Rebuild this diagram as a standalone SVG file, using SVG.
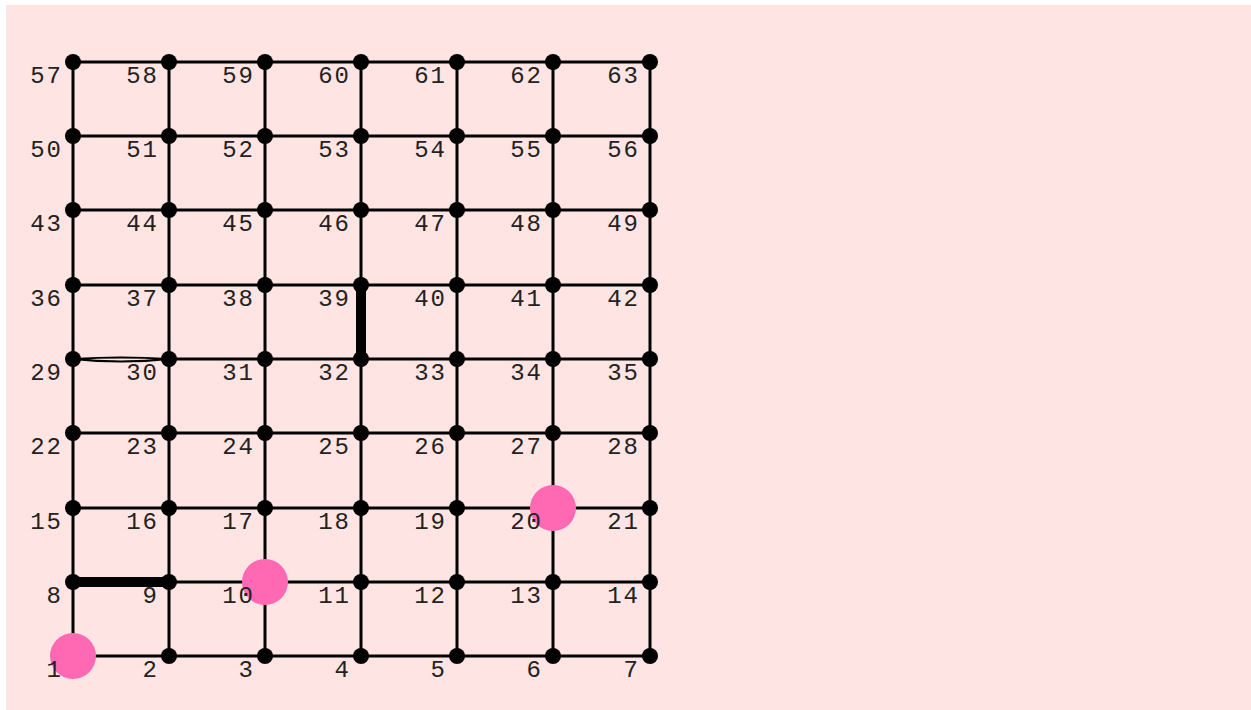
<svg xmlns="http://www.w3.org/2000/svg" width="1251" height="710" viewBox="0 0 1251 710">
<style>
.e{stroke:#000;stroke-width:3;fill:none}
.t{stroke:#000;stroke-width:10;fill:none;stroke-linecap:round}
.l{stroke:#000;stroke-width:2;fill:none}
.n{fill:#000}
.p{fill:#FF69B4}
text{font-family:"Liberation Mono","DejaVu Sans Mono",monospace;font-size:24px;fill:#222;text-anchor:end;letter-spacing:2px}
</style>
<rect x="0" y="0" width="1251" height="710" fill="#fff"/>
<rect x="6" y="5" width="1245" height="705" fill="#FFE4E4"/>
<g id="connectors">
<path class="e" d="M73 656H169"/><path class="e" d="M169 656H265"/><path class="e" d="M265 656H361"/><path class="e" d="M361 656H457"/><path class="e" d="M457 656H553"/><path class="e" d="M553 656H650"/>
<path class="t" d="M73 582H169"/><path class="e" d="M169 582H265"/><path class="e" d="M265 582H361"/><path class="e" d="M361 582H457"/><path class="e" d="M457 582H553"/><path class="e" d="M553 582H650"/>
<path class="e" d="M73 508H169"/><path class="e" d="M169 508H265"/><path class="e" d="M265 508H361"/><path class="e" d="M361 508H457"/><path class="e" d="M457 508H553"/><path class="e" d="M553 508H650"/>
<path class="e" d="M73 433H169"/><path class="e" d="M169 433H265"/><path class="e" d="M265 433H361"/><path class="e" d="M361 433H457"/><path class="e" d="M457 433H553"/><path class="e" d="M553 433H650"/>
<path class="l" d="M73 359Q121 356 169 359Q121 364 73 359"/><path class="e" d="M169 359H265"/><path class="e" d="M265 359H361"/><path class="e" d="M361 359H457"/><path class="e" d="M457 359H553"/><path class="e" d="M553 359H650"/>
<path class="e" d="M73 285H169"/><path class="e" d="M169 285H265"/><path class="e" d="M265 285H361"/><path class="e" d="M361 285H457"/><path class="e" d="M457 285H553"/><path class="e" d="M553 285H650"/>
<path class="e" d="M73 210H169"/><path class="e" d="M169 210H265"/><path class="e" d="M265 210H361"/><path class="e" d="M361 210H457"/><path class="e" d="M457 210H553"/><path class="e" d="M553 210H650"/>
<path class="e" d="M73 136H169"/><path class="e" d="M169 136H265"/><path class="e" d="M265 136H361"/><path class="e" d="M361 136H457"/><path class="e" d="M457 136H553"/><path class="e" d="M553 136H650"/>
<path class="e" d="M73 62H169"/><path class="e" d="M169 62H265"/><path class="e" d="M265 62H361"/><path class="e" d="M361 62H457"/><path class="e" d="M457 62H553"/><path class="e" d="M553 62H650"/>
<path class="e" d="M73 656V582"/><path class="e" d="M73 582V508"/><path class="e" d="M73 508V433"/><path class="e" d="M73 433V359"/><path class="e" d="M73 359V285"/><path class="e" d="M73 285V210"/><path class="e" d="M73 210V136"/><path class="e" d="M73 136V62"/>
<path class="e" d="M169 656V582"/><path class="e" d="M169 582V508"/><path class="e" d="M169 508V433"/><path class="e" d="M169 433V359"/><path class="e" d="M169 359V285"/><path class="e" d="M169 285V210"/><path class="e" d="M169 210V136"/><path class="e" d="M169 136V62"/>
<path class="e" d="M265 656V582"/><path class="e" d="M265 582V508"/><path class="e" d="M265 508V433"/><path class="e" d="M265 433V359"/><path class="e" d="M265 359V285"/><path class="e" d="M265 285V210"/><path class="e" d="M265 210V136"/><path class="e" d="M265 136V62"/>
<path class="e" d="M361 656V582"/><path class="e" d="M361 582V508"/><path class="e" d="M361 508V433"/><path class="e" d="M361 433V359"/><path class="t" d="M361 359V285"/><path class="e" d="M361 285V210"/><path class="e" d="M361 210V136"/><path class="e" d="M361 136V62"/>
<path class="e" d="M457 656V582"/><path class="e" d="M457 582V508"/><path class="e" d="M457 508V433"/><path class="e" d="M457 433V359"/><path class="e" d="M457 359V285"/><path class="e" d="M457 285V210"/><path class="e" d="M457 210V136"/><path class="e" d="M457 136V62"/>
<path class="e" d="M553 656V582"/><path class="e" d="M553 582V508"/><path class="e" d="M553 508V433"/><path class="e" d="M553 433V359"/><path class="e" d="M553 359V285"/><path class="e" d="M553 285V210"/><path class="e" d="M553 210V136"/><path class="e" d="M553 136V62"/>
<path class="e" d="M650 656V582"/><path class="e" d="M650 582V508"/><path class="e" d="M650 508V433"/><path class="e" d="M650 433V359"/><path class="e" d="M650 359V285"/><path class="e" d="M650 285V210"/><path class="e" d="M650 210V136"/><path class="e" d="M650 136V62"/>
</g>
<g id="n1"><circle class="p" cx="73" cy="656" r="23"/><text x="63" y="677">1</text></g>
<g id="n2"><circle class="n" cx="169" cy="656" r="8"/><text x="159" y="677">2</text></g>
<g id="n3"><circle class="n" cx="265" cy="656" r="8"/><text x="255" y="677">3</text></g>
<g id="n4"><circle class="n" cx="361" cy="656" r="8"/><text x="351" y="677">4</text></g>
<g id="n5"><circle class="n" cx="457" cy="656" r="8"/><text x="447" y="677">5</text></g>
<g id="n6"><circle class="n" cx="553" cy="656" r="8"/><text x="543" y="677">6</text></g>
<g id="n7"><circle class="n" cx="650" cy="656" r="8"/><text x="640" y="677">7</text></g>
<g id="n8"><circle class="n" cx="73" cy="582" r="8"/><text x="63" y="603">8</text></g>
<g id="n9"><circle class="n" cx="169" cy="582" r="8"/><text x="159" y="603">9</text></g>
<g id="n10"><circle class="p" cx="265" cy="582" r="23"/><text x="255" y="603">10</text></g>
<g id="n11"><circle class="n" cx="361" cy="582" r="8"/><text x="351" y="603">11</text></g>
<g id="n12"><circle class="n" cx="457" cy="582" r="8"/><text x="447" y="603">12</text></g>
<g id="n13"><circle class="n" cx="553" cy="582" r="8"/><text x="543" y="603">13</text></g>
<g id="n14"><circle class="n" cx="650" cy="582" r="8"/><text x="640" y="603">14</text></g>
<g id="n15"><circle class="n" cx="73" cy="508" r="8"/><text x="63" y="529">15</text></g>
<g id="n16"><circle class="n" cx="169" cy="508" r="8"/><text x="159" y="529">16</text></g>
<g id="n17"><circle class="n" cx="265" cy="508" r="8"/><text x="255" y="529">17</text></g>
<g id="n18"><circle class="n" cx="361" cy="508" r="8"/><text x="351" y="529">18</text></g>
<g id="n19"><circle class="n" cx="457" cy="508" r="8"/><text x="447" y="529">19</text></g>
<g id="n20"><circle class="p" cx="553" cy="508" r="23"/><text x="543" y="529">20</text></g>
<g id="n21"><circle class="n" cx="650" cy="508" r="8"/><text x="640" y="529">21</text></g>
<g id="n22"><circle class="n" cx="73" cy="433" r="8"/><text x="63" y="454">22</text></g>
<g id="n23"><circle class="n" cx="169" cy="433" r="8"/><text x="159" y="454">23</text></g>
<g id="n24"><circle class="n" cx="265" cy="433" r="8"/><text x="255" y="454">24</text></g>
<g id="n25"><circle class="n" cx="361" cy="433" r="8"/><text x="351" y="454">25</text></g>
<g id="n26"><circle class="n" cx="457" cy="433" r="8"/><text x="447" y="454">26</text></g>
<g id="n27"><circle class="n" cx="553" cy="433" r="8"/><text x="543" y="454">27</text></g>
<g id="n28"><circle class="n" cx="650" cy="433" r="8"/><text x="640" y="454">28</text></g>
<g id="n29"><circle class="n" cx="73" cy="359" r="8"/><text x="63" y="380">29</text></g>
<g id="n30"><circle class="n" cx="169" cy="359" r="8"/><text x="159" y="380">30</text></g>
<g id="n31"><circle class="n" cx="265" cy="359" r="8"/><text x="255" y="380">31</text></g>
<g id="n32"><circle class="n" cx="361" cy="359" r="8"/><text x="351" y="380">32</text></g>
<g id="n33"><circle class="n" cx="457" cy="359" r="8"/><text x="447" y="380">33</text></g>
<g id="n34"><circle class="n" cx="553" cy="359" r="8"/><text x="543" y="380">34</text></g>
<g id="n35"><circle class="n" cx="650" cy="359" r="8"/><text x="640" y="380">35</text></g>
<g id="n36"><circle class="n" cx="73" cy="285" r="8"/><text x="63" y="306">36</text></g>
<g id="n37"><circle class="n" cx="169" cy="285" r="8"/><text x="159" y="306">37</text></g>
<g id="n38"><circle class="n" cx="265" cy="285" r="8"/><text x="255" y="306">38</text></g>
<g id="n39"><circle class="n" cx="361" cy="285" r="8"/><text x="351" y="306">39</text></g>
<g id="n40"><circle class="n" cx="457" cy="285" r="8"/><text x="447" y="306">40</text></g>
<g id="n41"><circle class="n" cx="553" cy="285" r="8"/><text x="543" y="306">41</text></g>
<g id="n42"><circle class="n" cx="650" cy="285" r="8"/><text x="640" y="306">42</text></g>
<g id="n43"><circle class="n" cx="73" cy="210" r="8"/><text x="63" y="231">43</text></g>
<g id="n44"><circle class="n" cx="169" cy="210" r="8"/><text x="159" y="231">44</text></g>
<g id="n45"><circle class="n" cx="265" cy="210" r="8"/><text x="255" y="231">45</text></g>
<g id="n46"><circle class="n" cx="361" cy="210" r="8"/><text x="351" y="231">46</text></g>
<g id="n47"><circle class="n" cx="457" cy="210" r="8"/><text x="447" y="231">47</text></g>
<g id="n48"><circle class="n" cx="553" cy="210" r="8"/><text x="543" y="231">48</text></g>
<g id="n49"><circle class="n" cx="650" cy="210" r="8"/><text x="640" y="231">49</text></g>
<g id="n50"><circle class="n" cx="73" cy="136" r="8"/><text x="63" y="157">50</text></g>
<g id="n51"><circle class="n" cx="169" cy="136" r="8"/><text x="159" y="157">51</text></g>
<g id="n52"><circle class="n" cx="265" cy="136" r="8"/><text x="255" y="157">52</text></g>
<g id="n53"><circle class="n" cx="361" cy="136" r="8"/><text x="351" y="157">53</text></g>
<g id="n54"><circle class="n" cx="457" cy="136" r="8"/><text x="447" y="157">54</text></g>
<g id="n55"><circle class="n" cx="553" cy="136" r="8"/><text x="543" y="157">55</text></g>
<g id="n56"><circle class="n" cx="650" cy="136" r="8"/><text x="640" y="157">56</text></g>
<g id="n57"><circle class="n" cx="73" cy="62" r="8"/><text x="63" y="83">57</text></g>
<g id="n58"><circle class="n" cx="169" cy="62" r="8"/><text x="159" y="83">58</text></g>
<g id="n59"><circle class="n" cx="265" cy="62" r="8"/><text x="255" y="83">59</text></g>
<g id="n60"><circle class="n" cx="361" cy="62" r="8"/><text x="351" y="83">60</text></g>
<g id="n61"><circle class="n" cx="457" cy="62" r="8"/><text x="447" y="83">61</text></g>
<g id="n62"><circle class="n" cx="553" cy="62" r="8"/><text x="543" y="83">62</text></g>
<g id="n63"><circle class="n" cx="650" cy="62" r="8"/><text x="640" y="83">63</text></g>
</svg>
